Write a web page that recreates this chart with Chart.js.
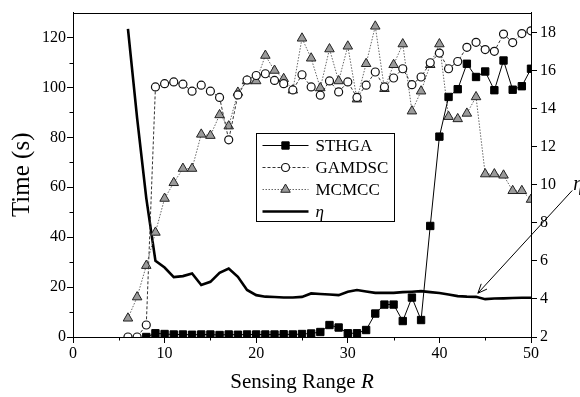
<!DOCTYPE html>
<html>
<head>
<meta charset="utf-8">
<script src="https://cdn.jsdelivr.net/npm/chart.js@4.4.0/dist/chart.umd.min.js"></script>
<style>
  html, body { margin: 0; padding: 0; background: #fff; }
  #wrap { width: 580px; height: 397px; }
</style>
</head>
<body>
<div id="wrap"><canvas id="chart" width="580" height="397"></canvas></div>
<script>
// --- data ---
const range = [6, 7, 8, 9, 10, 11, 12, 13, 14, 15, 16, 17, 18, 19, 20, 21, 22, 23, 24, 25, 26, 27, 28,
               29, 30, 31, 32, 33, 34, 35, 36, 37, 38, 39, 40, 41, 42, 43, 44, 45, 46, 47, 48, 49, 50];

const sthga = [null, null, 0, 1.5, 1.2, 1, 1, 0.9, 1, 1, 0.8, 1, 0.9, 1, 1, 1, 1, 1.1, 1, 1.2, 1.4, 2, 4.8,
               3.8, 1.5, 1.5, 2.8, 9.4, 13, 13, 6.4, 15.8, 6.8, 44.5, 80.3, 96.2, 99.3, 109.5, 104.2, 106.4, 98.9, 110.8, 99.1, 100.5, 107.5];

const gamdsc = [0, 0, 4.8, 100.2, 101.5, 102.2, 101.3, 98.5, 100.9, 98.5, 96, 79, 97, 103, 104.8, 105.5, 102.8, 101.5, 99, 105.1, 100.2, 96.9, 102.6,
                98.2, 102.2, 96, 100.9, 106.2, 100.2, 103.8, 107.5, 101.1, 104.2, 109.9, 113.8, 107.5, 110.4, 116.1, 118.1, 115.2, 114.5, 121.4, 118, 121.6, 122.7];

const mcmcc = [7.5, 16, 28.6, 41.9, 55.5, 61.8, 67.5, 67.5, 81.2, 80.7, 89, 84.5, 98, 102.6, 102.6, 112.8, 106.8, 103.5, 98.9, 119.7, 111.7, 99.8, 115.4,
               102.6, 116.5, 95.3, 109.5, 124.5, 99.5, 109.1, 117.4, 90.5, 98.5, 109.1, 117.4, 88.3, 87.4, 89.6, 96.2, 65.3, 65.3, 64.8, 58.6, 58.6, 55.1];

const eta = [18.2, 13.5, 9.3, 6.0, 5.65, 5.15, 5.2, 5.34, 4.73, 4.9, 5.37, 5.6, 5.16, 4.47, 4.2, 4.12, 4.1, 4.08, 4.08, 4.11, 4.29, 4.26, 4.23,
             4.2, 4.38, 4.47, 4.39, 4.32, 4.32, 4.32, 4.36, 4.38, 4.41, 4.36, 4.31, 4.23, 4.15, 4.12, 4.11, 3.99, 4.02, 4.03, 4.05, 4.06, 4.06];

const xTicks = [0, 10, 20, 30, 40, 50];
const xMinor = [5, 15, 25, 35, 45];
const timeTicks = [0, 20, 40, 60, 80, 100, 120];
const timeMinor = [10, 30, 50, 70, 90, 110];
const etaTicks = [2, 4, 6, 8, 10, 12, 14, 16, 18];

// arrow pointing at the eta curve (data coords: sensing range, eta)
const arrowFrom = [54.5, 9.7];
const arrowTo = [44.2, 4.3];

const FONT = "'Liberation Serif', 'Times New Roman', serif";

function pts(values) {
    return range.map((r, i) => ({ x: r, y: values[i] }));
}

const datasets = [
    {
        label: 'STHGA', data: pts(sthga), yAxisID: 'y',
        borderColor: '#000', borderWidth: 1, backgroundColor: '#000',
        pointStyle: 'rect', pointRadius: 5.2, pointBorderColor: '#000', pointBackgroundColor: '#000', pointBorderWidth: 1
    },
    {
        label: 'GAMDSC', data: pts(gamdsc), yAxisID: 'y',
        borderColor: '#333', borderWidth: 1, borderDash: [3, 2],
        pointStyle: 'circle', pointRadius: 4, pointBorderColor: '#111', pointBackgroundColor: '#fff', pointBorderWidth: 1.2
    },
    {
        label: 'MCMCC', data: pts(mcmcc), yAxisID: 'y',
        borderColor: '#666', borderWidth: 1, borderDash: [1.5, 1.5],
        pointStyle: 'triangle', pointRadius: 5.5, pointBorderColor: '#222', pointBackgroundColor: '#9a9a9a', pointBorderWidth: 1
    },
    {
        label: 'η', data: pts(eta), yAxisID: 'y1',
        borderColor: '#000', borderWidth: 2.6, pointRadius: 0
    }
];

function fixedTicks(list) {
    return function (scale) {
        scale.ticks = list.map(v => ({ value: v }));
    };
}

function line(ctx, x1, y1, x2, y2) {
    ctx.beginPath();
    ctx.moveTo(x1, y1);
    ctx.lineTo(x2, y2);
    ctx.stroke();
}

// --- frame, minor ticks, titles, legend, arrow ---
const extras = {
    id: 'extras',
    afterDraw(chart) {
        const ctx = chart.ctx;
        const a = chart.chartArea;
        const sx = chart.scales.x, sy = chart.scales.y, sr = chart.scales.y1;

        ctx.save();
        ctx.strokeStyle = '#000';
        ctx.fillStyle = '#000';
        ctx.lineWidth = 1;
        ctx.setLineDash([]);

        // top frame
        line(ctx, a.left, Math.round(a.top) + 0.5, a.right, Math.round(a.top) + 0.5);

        // minor ticks
        xMinor.forEach(v => {
            const px = Math.round(sx.getPixelForValue(v)) + 0.5;
            line(ctx, px, a.bottom, px, a.bottom + 3.5);
        });
        timeMinor.forEach(v => {
            const py = Math.round(sy.getPixelForValue(v)) + 0.5;
            line(ctx, a.left - 3.5, py, a.left, py);
        });

        // axis titles
        ctx.font = '25px ' + FONT;
        ctx.textBaseline = 'middle';
        ctx.textAlign = 'center';
        ctx.save();
        ctx.translate(22, (a.top + a.bottom) / 2);
        ctx.rotate(-Math.PI / 2);
        ctx.fillText('Time (s)', 0, 0);
        ctx.restore();

        const part1 = 'Sensing Range ';
        ctx.font = '21px ' + FONT;
        const w1 = ctx.measureText(part1).width;
        ctx.font = 'italic 21px ' + FONT;
        const w2 = ctx.measureText('R').width;
        const startX = (a.left + a.right) / 2 - (w1 + w2) / 2;
        ctx.textAlign = 'left';
        ctx.font = '21px ' + FONT;
        ctx.fillText(part1, startX, 382);
        ctx.font = 'italic 21px ' + FONT;
        ctx.fillText('R', startX + w1, 382);

        // legend box
        const box = { x: 256.5, y: 133.5, w: 138, h: 88 };
        ctx.lineWidth = 1;
        ctx.strokeRect(box.x, box.y, box.w, box.h);
        chart.data.datasets.forEach((ds, i) => {
            const yy = box.y + 12 + i * 22;
            const x1 = box.x + 6, x2 = box.x + 52, xm = (x1 + x2) / 2;
            ctx.save();
            ctx.strokeStyle = ds.borderColor;
            ctx.lineWidth = ds.borderWidth;
            ctx.setLineDash(ds.borderDash || []);
            line(ctx, x1, yy, x2, yy);
            ctx.restore();
            if (ds.pointRadius > 0) {
                ctx.save();
                ctx.fillStyle = ds.pointBackgroundColor;
                ctx.strokeStyle = ds.pointBorderColor;
                ctx.lineWidth = ds.pointBorderWidth;
                Chart.helpers.drawPoint(ctx, { pointStyle: ds.pointStyle, radius: ds.pointRadius, borderWidth: ds.pointBorderWidth, rotation: 0 }, xm, yy);
                ctx.restore();
            }
            ctx.fillStyle = '#000';
            ctx.textAlign = 'left';
            ctx.textBaseline = 'middle';
            ctx.font = (ds.label === 'η' ? 'italic ' : '') + '17px ' + FONT;
            ctx.fillText(ds.label, box.x + 59, yy + 1);
        });

        // arrow to the eta curve
        const fx = sx.getPixelForValue(arrowFrom[0]), fy = sr.getPixelForValue(arrowFrom[1]);
        const tx = sx.getPixelForValue(arrowTo[0]), ty = sr.getPixelForValue(arrowTo[1]);
        ctx.strokeStyle = '#000';
        ctx.lineWidth = 1;
        line(ctx, fx, fy, tx, ty);
        const ang = Math.atan2(ty - fy, tx - fx);
        [0.4, -0.4].forEach(d => {
            line(ctx, tx, ty, tx - 10 * Math.cos(ang + d), ty - 10 * Math.sin(ang + d));
        });
        ctx.font = 'italic 20px ' + FONT;
        ctx.textAlign = 'left';
        ctx.textBaseline = 'bottom';
        ctx.fillText('η', fx + 1, fy + 4);

        ctx.restore();
    }
};

const tickFont = { family: FONT, size: 16 };

new Chart(document.getElementById('chart'), {
    type: 'line',
    data: { datasets: datasets },
    plugins: [extras],
    options: {
        responsive: false,
        animation: false,
        layout: { padding: { top: 12, left: 0, right: 0, bottom: 0 } },
        plugins: { legend: { display: false }, tooltip: { enabled: false } },
        elements: { line: { tension: 0 } },
        scales: {
            x: {
                type: 'linear', min: 0, max: 50,
                afterBuildTicks: fixedTicks(xTicks),
                afterFit(scale) { scale.height = 60; },
                grid: { drawOnChartArea: false, drawTicks: true, tickLength: 6, color: '#000' },
                border: { color: '#000', width: 1 },
                ticks: { font: tickFont, color: '#000', padding: 1, maxRotation: 0 }
            },
            y: {
                type: 'linear', position: 'left', min: 0, max: 130,
                afterBuildTicks: fixedTicks(timeTicks),
                afterFit(scale) { scale.width = 73; },
                grid: { drawOnChartArea: false, drawTicks: true, tickLength: 6, color: '#000' },
                border: { color: '#000', width: 1 },
                ticks: { font: tickFont, color: '#000', padding: 1 }
            },
            y1: {
                type: 'linear', position: 'right', min: 2, max: 19.05,
                afterBuildTicks: fixedTicks(etaTicks),
                afterFit(scale) { scale.width = 49; },
                grid: { drawOnChartArea: false, drawTicks: true, tickLength: 6, color: '#000' },
                border: { color: '#000', width: 1 },
                ticks: { font: tickFont, color: '#000', padding: 3 }
            }
        }
    }
});
</script>
</body>
</html>
